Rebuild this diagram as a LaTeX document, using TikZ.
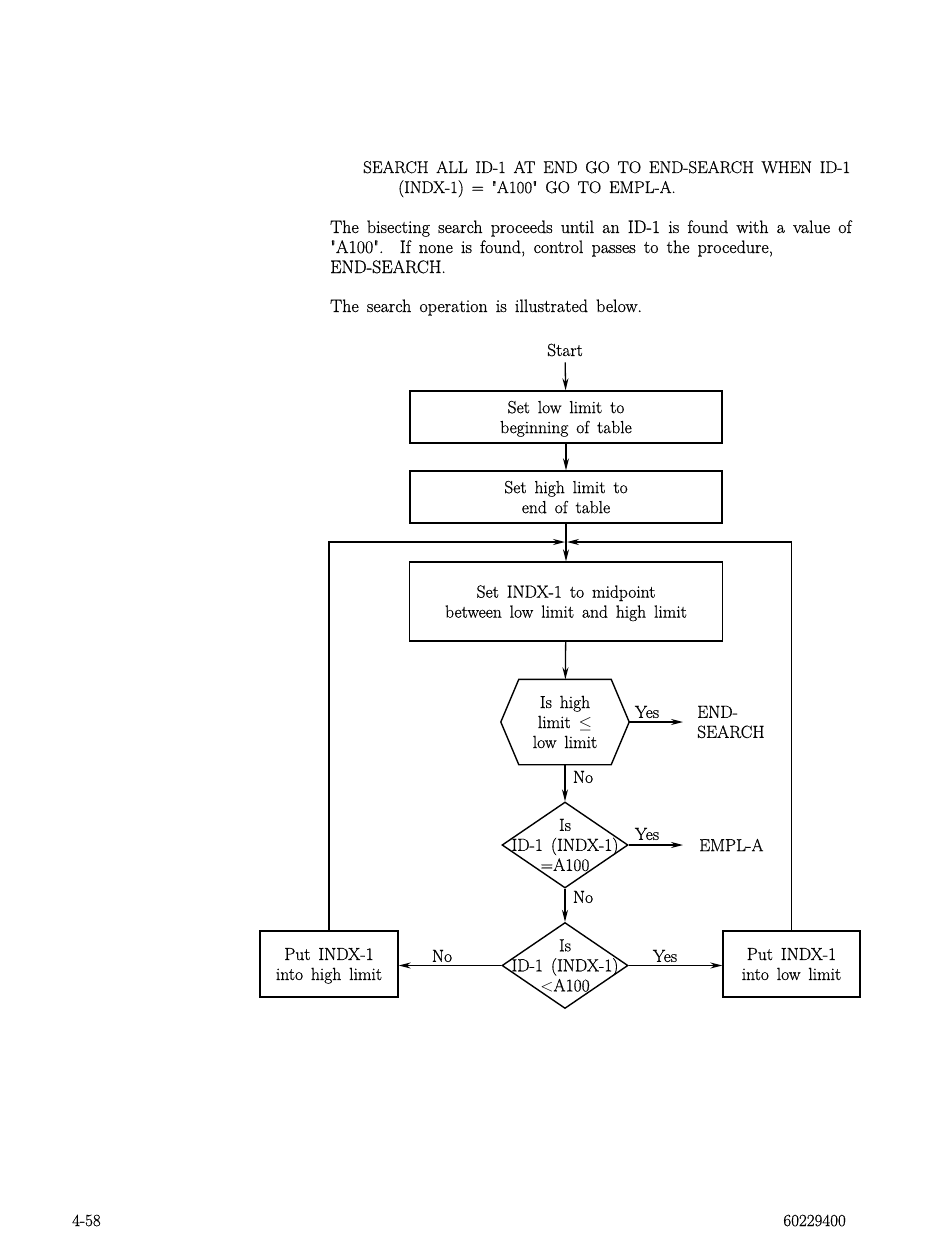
\documentclass[tikz,border=0pt]{standalone}
\usepackage{fontspec}
\setmainfont{Latin Modern Roman}[WordSpace=1.5,FakeBold=0.6]
\newfontfamily\lmplain{Latin Modern Roman}[Ligatures=TeXOff,FakeBold=0.6]
\usetikzlibrary{shapes.geometric,arrows.meta}
\newcommand{\qq}{{\lmplain\char34\relax}}
\begin{document}
\begin{tikzpicture}[x=1pt,y=-1pt,
  font=\fontsize{17.5}{20}\selectfont,
  box/.style={draw,line width=1.4pt,align=center,inner sep=0pt,text depth=0pt},
  txt/.style={inner sep=0pt,align=center},
  body/.style={inner sep=0pt,anchor=base west,font=\fontsize{18}{20}\selectfont},
  arr/.style={line width=1.3pt,-{Stealth[length=12pt,width=6pt]}},
  ln/.style={line width=1.3pt},
  dia/.style={draw,diamond,line width=1.4pt,inner sep=0pt,minimum width=126,minimum height=86},
]
\useasboundingbox[fill=white] (0,0) rectangle (950,1260);

% body text
\node[body,font=\fontsize{17}{20}\selectfont] (l1) at (363,173) {SEARCH ALL ID-1 AT END GO TO END-SEARCH WHEN ID-1};
\node[body,font=\fontsize{17}{20}\selectfont] (l2) at (398,193) {(INDX-1) = \qq A100\qq\ GO TO EMPL-A.};
\node[body] (p1) at (330,233) {The bisecting search proceeds until an ID-1 is found with a value of};
\node[body] (p2) at (330,253) {\qq A100\qq.\ \ If none is found, control passes to the procedure,};
\node[body] (p3) at (330,273) {END-SEARCH.};
\node[body] (p4) at (330,312) {The search operation is illustrated below.};

% flowchart
\node[txt] (start) at (565,350) {Start};
\node[box,minimum width=312,minimum height=52] (b1) at (566,417) {Set low limit to\\beginning of table};
\node[box,minimum width=312,minimum height=52] (b2) at (566,497) {Set high limit to\\end of table};
\coordinate (m) at (566,542);
\node[box,minimum width=313,minimum height=79] (b3) at (566,601.5) {Set INDX-1 to midpoint\\between low limit and high limit};

\node[txt,minimum width=128,minimum height=85] (hex) at (565,722) {Is high\\limit $\leq$\\low limit};
\draw[ln,line width=1.4pt] ([xshift=18]hex.north west) -- ([xshift=-18]hex.north east) -- (hex.east)
  -- ([xshift=-18]hex.south east) -- ([xshift=18]hex.south west) -- (hex.west) -- cycle;
\node[txt,align=left,anchor=west] (es) at (697,722) {END-\\SEARCH};

\node[dia] (d1) at (565,845) {};
\node[txt] (d1t) at (d1.center) {Is\\ID-1 (INDX-1)\\=A100};
\node[txt,anchor=west] (empl) at (699,845) {EMPL-A};

\node[dia] (d2) at (565,965.5) {};
\node[txt] (d2t) at (d2.center) {Is\\ID-1 (INDX-1)\\$<$A100};

\node[box,minimum width=138,minimum height=66] (lb) at (329,964) {Put INDX-1\\into high limit};
\node[box,minimum width=137,minimum height=66] (rb) at (791.5,964) {Put INDX-1\\into low limit};

% connectors
\draw[arr,shorten <=6pt] (start) -- (b1);
\draw[arr] (b1) -- (b2);
\draw[ln] (b2) -- (m);
\draw[arr] (m) -- (b3);
\draw[arr] (lb.north) |- ([xshift=-1]m);
\draw[arr] (rb.north) |- ([xshift=1]m);
\draw[arr] (b3) -- (hex);
\draw[arr] (hex.east) -- ([xshift=-14]es.west);
\draw[arr] (hex.south) -- (d1.north);
\draw[arr] (d1.east) -- ([xshift=-16]empl.west);
\draw[arr] (d1.south) -- (d2.north);
\draw[arr] (d2.west) -- (d2.west -| lb.east);
\draw[arr] (d2.east) -- (d2.east -| rb.west);

% labels
\node[txt] (y1) at (647,712) {Yes};
\node[txt] (n1) at (583,777) {No};
\node[txt] (y2) at (647,834) {Yes};
\node[txt] (n2) at (583,897) {No};
\node[txt] (n3) at (442,956) {No};
\node[txt] (y3) at (665,956) {Yes};

% footer
\node[inner sep=0pt,anchor=base west,font=\fontsize{17}{18}\selectfont] (f1) at (72,1226) {4-58};
\node[inner sep=0pt,anchor=base east,font=\fontsize{17}{18}\selectfont] (f2) at (846,1226) {60229400};
\end{tikzpicture}
\end{document}
